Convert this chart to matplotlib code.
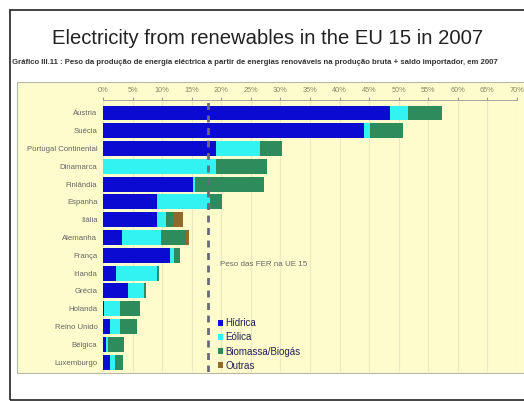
import numpy as np
import matplotlib
matplotlib.use("Agg")
import matplotlib.pyplot as plt
from matplotlib.patches import Rectangle, Patch

plt.rcParams['font.family'] = ['Liberation Sans', 'DejaVu Sans']

paises = ["Áustria", "Suécia", "Portugal Continental", "Dinamarca", "Finlândia",
          "Espanha", "Itália", "Alemanha", "França", "Irlanda", "Grécia",
          "Holanda", "Reino Unido", "Bélgica", "Luxemburgo"]
hidrica = [48.6, 44.2, 19.1, 0.0, 15.2, 9.1, 9.1, 3.2, 11.3, 2.2, 4.2, 0.1, 1.2, 0.5, 1.2]
eolica = [3.0, 1.0, 7.5, 19.1, 0.3, 9.0, 1.5, 6.6, 0.7, 7.0, 2.7, 2.8, 1.6, 0.4, 0.8]
biomassa = [5.8, 5.6, 3.7, 8.6, 11.7, 2.0, 1.3, 4.3, 1.0, 0.3, 0.3, 3.3, 2.9, 2.7, 1.3]
outras = [0.0, 0.0, 0.0, 0.0, 0.0, 0.0, 1.7, 0.4, 0.0, 0.0, 0.0, 0.0, 0.0, 0.0, 0.0]
media_ue15 = 17.8

ticks = np.arange(0, 75, 5)
tick_labels = [f"{t}%" for t in ticks]

titulo = "Electricity from renewables in the EU 15 in 2007"
subtitulo = ("Gráfico III.11 : Peso da produção de energia eléctrica a partir de energias "
             "renováveis na produção bruta + saldo importador, em 2007")
series = ["Hídrica", "Eólica", "Biomassa/Biogás", "Outras"]
cores = ["#0a0ad2", "#33f2f2", "#2e8c5c", "#8f6a2a"]

W, H = 524, 401
fig = plt.figure(figsize=(W / 100, H / 100), dpi=100)
fig.patch.set_facecolor("white")

# moldura preta e fundo amarelo (atras dos eixos)
fig.patches.append(Rectangle((10 / W, 1 - 400 / H), 530 / W, 390 / H, transform=fig.transFigure,
                             fill=False, edgecolor="#222222", linewidth=1.2, zorder=-2))
fig.patches.append(Rectangle((17 / W, 1 - 373 / H), 520 / W, 291 / H, transform=fig.transFigure,
                             facecolor="#fefccc", edgecolor="#b8b8a8", linewidth=0.8, zorder=-1))

fig.text(268 / W, 1 - 38 / H, titulo, ha="center", va="center", fontsize=14.6, color="#222222")
fig.text(12 / W, 1 - 62 / H, subtitulo, ha="left", va="center", fontsize=5.55, color="#333333",
         fontweight="bold")

ax = fig.add_axes([103 / W, 1 - 372 / H, 414 / W, 272 / H])
ax.set_facecolor("none")
y = np.arange(len(paises))
esq = np.zeros(len(paises))
for nome, vals, cor in zip(series, [hidrica, eolica, biomassa, outras], cores):
    ax.barh(y, vals, left=esq, height=0.84, color=cor, label=nome, zorder=2)
    esq = esq + np.array(vals)

ax.axvline(media_ue15, color="#6a6a7a", linestyle=(0, (2.5, 2.0)), linewidth=2, zorder=3)
ax.text(19.8, 8.5, "Peso das FER na UE 15", fontsize=5.8, color="#666666", va="center")

ax.set_xlim(0, 70)
ax.set_ylim(14.56, -0.73)
ax.set_yticks(y)
ax.set_yticklabels(paises, fontsize=5.6, color="#666666")
ax.xaxis.tick_top()
ax.set_xticks(ticks)
ax.set_xticklabels(tick_labels, fontsize=5.3, color="#888866")
ax.tick_params(axis="x", length=2, color="#999999", pad=2)
ax.tick_params(axis="y", length=0, pad=4)
ax.grid(axis="x", color="#ebe9c0", linewidth=0.8, zorder=0)
for s in ["right", "bottom", "left"]:
    ax.spines[s].set_visible(False)
ax.spines["top"].set_color("#999999")
ax.spines["top"].set_linewidth(0.6)

handles = [Patch(facecolor=c, edgecolor="none") for c in cores]
ax.legend(handles, series, loc="upper left", bbox_to_anchor=(0.265, 0.215), frameon=False,
          fontsize=7, handlelength=0.6, handleheight=0.6, handletextpad=0.2,
          labelspacing=0.42, borderpad=0, labelcolor="#222255")

fig.savefig("out.png", dpi=100)
